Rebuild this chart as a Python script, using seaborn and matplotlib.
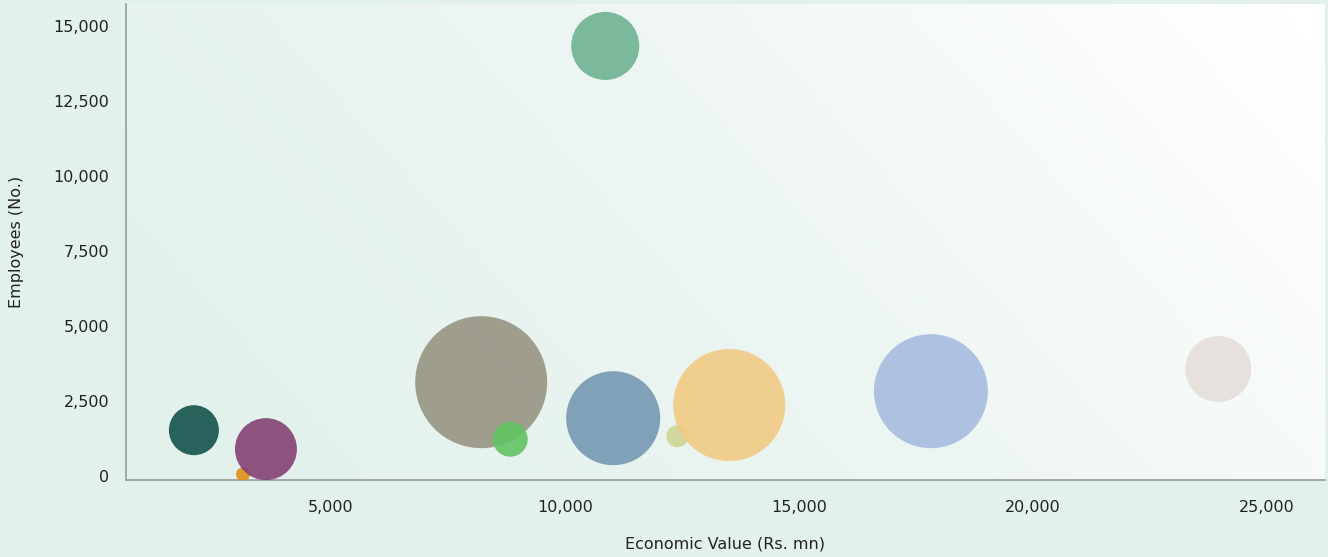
import numpy as np
import pandas as pd
import matplotlib
matplotlib.use("Agg")
import matplotlib.pyplot as plt
import matplotlib.ticker as mticker
from matplotlib.colors import LinearSegmentedColormap
import seaborn as sns

# bubble data
segments = ["A", "B", "C", "D", "E", "F", "G", "H", "I", "J", "K"]
economic_value = [2070, 3120, 3610, 8210, 8830, 11030, 12400, 13510, 17820, 23960, 10860]
employees = [1530, 60, 900, 3130, 1230, 1930, 1330, 2370, 2830, 3570, 14330]
bubble_size = [625, 49, 960, 4360, 306, 2210, 121, 3140, 3250, 1090, 1160]  # relative area
colors = ["#13534a", "#e38c14", "#844272", "#989482", "#62c462", "#7598b2",
          "#d0d494", "#f0ca84", "#a6bde0", "#e6dfdc", "#6fb394"]

df = pd.DataFrame({"segment": segments, "value": economic_value,
                   "employees": employees, "size": bubble_size})

sns.set_style("white")
plt.rcParams['font.family'] = ['DejaVu Sans']

fig = plt.figure(figsize=(13.28, 5.57), dpi=100, facecolor="#e3f1ec")
ax = fig.add_axes([0.0949, 0.138, 0.9028, 0.855])

# diagonal gradient background: mint on the left -> white at the top right
gx, gy = np.meshgrid(np.linspace(0, 1, 300), np.linspace(0, 1, 150))
grad = np.clip(0.85 * gx + 0.3 * gy - 0.12, 0, 1)
cmap = LinearSegmentedColormap.from_list("bg", ["#e3f1ec", "#eef6f3", "#ffffff"])
ax.imshow(grad, cmap=cmap, extent=[0, 1, 0, 1], transform=ax.transAxes,
          aspect="auto", origin="lower", zorder=0)

# area in pt^2 proportional to bubble_size (r px -> 1.44 r pt diameter)
max_area = (2 * 66 * 0.72) ** 2
sns.scatterplot(data=df, x="value", y="employees", hue="segment", palette=colors,
                size="size", sizes=(0, max_area), size_norm=(0, 4360),
                alpha=0.9, linewidth=0, legend=False, ax=ax, zorder=3)

ax.set_xlim(620, 26240)
ax.set_ylim(-133, 15730)
ax.set_xticks([5000, 10000, 15000, 20000, 25000])
ax.set_yticks([0, 2500, 5000, 7500, 10000, 12500, 15000])
fmt = mticker.FuncFormatter(lambda v, p: f"{int(v):,}")
ax.xaxis.set_major_formatter(fmt)
ax.yaxis.set_major_formatter(fmt)
ax.tick_params(axis="both", length=0, labelsize=11.5, labelcolor="#222222")
ax.tick_params(axis="x", pad=14)
ax.tick_params(axis="y", pad=12)

ax.set_xlabel("Economic Value (Rs. mn)", fontsize=11.5, color="#222222", labelpad=16)
ax.set_ylabel("Employees (No.)", fontsize=11.5, color="#222222", labelpad=21)

for side in ["top", "right"]:
    ax.spines[side].set_visible(False)
for side in ["left", "bottom"]:
    ax.spines[side].set_color("#9a9a9a")
    ax.spines[side].set_linewidth(1.2)

fig.savefig("out.png", dpi=100, facecolor=fig.get_facecolor())
